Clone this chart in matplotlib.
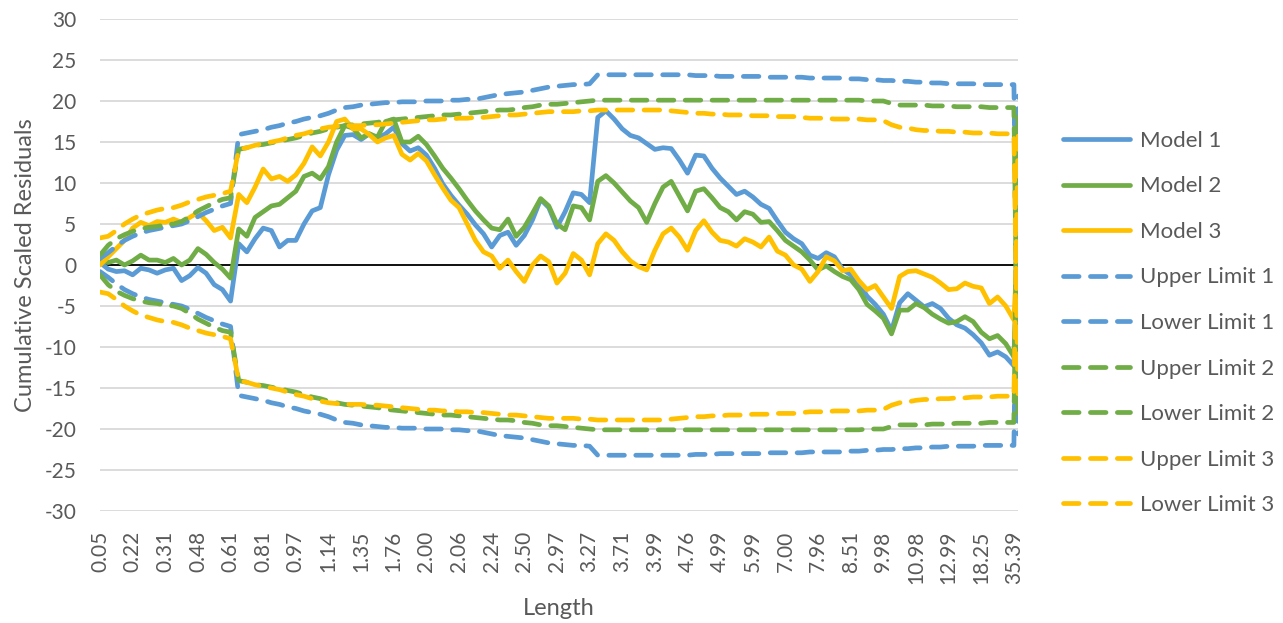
import matplotlib
matplotlib.use('Agg')

import matplotlib.pyplot as plt
from matplotlib.lines import Line2D

# category labels shown on the x axis (every 8th point of the series)
length_labels = ['0.05', '0.22', '0.31', '0.48', '0.61', '0.81', '0.97', '1.14',
                 '1.35', '1.76', '2.00', '2.06', '2.24', '2.50', '2.97', '3.27',
                 '3.71', '3.99', '4.76', '4.99', '5.99', '7.00', '7.96', '8.51',
                 '9.98', '10.98', '12.99', '18.25', '35.39']

# point index of every value below (every 2nd category + the final one)
point_idx = list(range(0, 225, 2)) + [225]

model_1 = [0.3, -0.5, -0.8, -0.7, -1.2, -0.4, -0.6, -1.0,
           -0.6, -0.4, -1.9, -1.3, -0.3, -1.0, -2.4, -3.0,
           -4.4, 2.6, 1.6, 3.2, 4.5, 4.2, 2.2, 3.0,
           3.0, 5.0, 6.6, 7.0, 11.0, 14.0, 15.8, 15.9,
           15.3, 16.0, 15.4, 16.0, 16.8, 14.8, 13.9, 14.3,
           13.4, 11.8, 9.9, 8.5, 7.3, 6.2, 4.9, 3.8,
           2.2, 3.6, 4.0, 2.4, 3.6, 5.5, 8.0, 7.0,
           4.6, 6.5, 8.8, 8.6, 7.6, 18.0, 18.8, 17.8,
           16.6, 15.8, 15.5, 14.8, 14.1, 14.3, 14.2, 12.8,
           11.2, 13.4, 13.3, 11.8, 10.6, 9.6, 8.6, 9.0,
           8.3, 7.4, 6.9, 5.4, 4.0, 3.2, 2.6, 1.2,
           0.8, 1.5, 1.0, -0.5, -1.2, -2.2, -3.8, -4.8,
           -6.0, -8.0, -4.6, -3.5, -4.3, -5.1, -4.7, -5.3,
           -6.5, -7.3, -7.7, -8.5, -9.5, -11.0, -10.6, -11.2,
           -12.3, 5.0]

model_2 = [0.5, 0.3, 0.6, 0.0, 0.5, 1.2, 0.6, 0.6,
           0.3, 0.8, 0.0, 0.6, 2.0, 1.3, 0.3, -0.5,
           -1.6, 4.4, 3.5, 5.8, 6.5, 7.2, 7.4, 8.2,
           9.0, 10.8, 11.2, 10.5, 12.0, 15.0, 17.0, 16.7,
           15.5, 16.0, 15.6, 17.5, 17.8, 15.0, 15.0, 15.7,
           14.7, 13.3, 11.8, 10.6, 9.3, 7.9, 6.6, 5.5,
           4.5, 4.3, 5.6, 3.5, 4.6, 6.3, 8.1, 7.2,
           5.0, 4.3, 7.2, 7.0, 5.5, 10.2, 10.9, 10.0,
           8.9, 7.8, 7.0, 5.2, 7.5, 9.5, 10.2, 8.4,
           6.6, 9.0, 9.3, 8.2, 7.0, 6.5, 5.5, 6.5,
           6.2, 5.2, 5.3, 4.2, 3.0, 2.3, 1.6, 0.6,
           -0.6, -0.1, -0.8, -1.4, -1.8, -3.0, -4.8, -5.6,
           -6.5, -8.4, -5.5, -5.5, -4.7, -5.2, -6.0, -6.6,
           -7.1, -6.9, -6.3, -6.9, -8.2, -9.0, -8.6, -9.6,
           -11.2, 2.0]

model_3 = [0.0, 1.0, 2.0, 3.0, 4.5, 5.2, 4.8, 5.3,
           5.2, 5.6, 5.2, 5.8, 6.4, 5.4, 4.2, 4.6,
           3.3, 8.6, 7.6, 9.5, 11.7, 10.5, 10.8, 10.2,
           11.0, 12.4, 14.4, 13.3, 15.0, 17.5, 17.8, 16.6,
           16.6, 15.9, 15.0, 15.5, 15.8, 13.5, 12.8, 13.6,
           12.7, 11.0, 9.4, 7.9, 7.0, 5.0, 3.0, 1.6,
           1.1, -0.4, 0.6, -0.8, -2.0, 0.0, 1.1, 0.4,
           -2.2, -1.0, 1.4, 0.6, -1.2, 2.6, 3.8, 3.0,
           1.6, 0.5, -0.2, -0.6, 1.8, 3.8, 4.5, 3.4,
           1.8, 4.2, 5.4, 4.0, 3.0, 2.8, 2.3, 3.2,
           2.8, 2.2, 3.4, 1.7, 1.2, 0.0, -0.5, -2.0,
           -0.8, 1.0, 0.5, -0.7, -0.5, -1.9, -3.0, -2.5,
           -3.9, -5.3, -1.4, -0.8, -0.7, -1.1, -1.5, -2.2,
           -3.0, -2.9, -2.2, -2.6, -2.8, -4.7, -3.9, -5.0,
           -6.7, 4.0]

upper_1 = [0.8, 1.5, 2.3, 3.0, 3.5, 3.9, 4.2, 4.4,
           4.6, 4.8, 5.0, 5.4, 5.9, 6.4, 6.8, 7.2,
           7.5, 15.9, 16.1, 16.3, 16.5, 16.8, 17.0, 17.3,
           17.5, 17.8, 18.0, 18.2, 18.5, 18.9, 19.2, 19.3,
           19.5, 19.6, 19.7, 19.8, 19.8, 19.9, 19.9, 19.9,
           20.0, 20.0, 20.0, 20.1, 20.1, 20.2, 20.2, 20.4,
           20.6, 20.8, 20.9, 21.0, 21.1, 21.3, 21.5, 21.7,
           21.8, 21.9, 22.0, 22.0, 22.1, 23.2, 23.2, 23.2,
           23.2, 23.2, 23.2, 23.2, 23.2, 23.2, 23.2, 23.2,
           23.2, 23.1, 23.1, 23.1, 23.0, 23.0, 23.0, 23.0,
           23.0, 23.0, 22.9, 22.9, 22.9, 22.9, 22.9, 22.8,
           22.8, 22.8, 22.8, 22.8, 22.7, 22.7, 22.6, 22.6,
           22.5, 22.5, 22.4, 22.4, 22.3, 22.3, 22.2, 22.2,
           22.1, 22.1, 22.1, 22.1, 22.0, 22.0, 22.0, 22.0,
           22.0, -20.6]

lower_1 = [-0.8, -1.5, -2.3, -3.0, -3.5, -3.9, -4.2, -4.4,
           -4.6, -4.8, -5.0, -5.4, -5.9, -6.4, -6.8, -7.2,
           -7.5, -15.9, -16.1, -16.3, -16.5, -16.8, -17.0, -17.3,
           -17.5, -17.8, -18.0, -18.2, -18.5, -18.9, -19.2, -19.3,
           -19.5, -19.6, -19.7, -19.8, -19.8, -19.9, -19.9, -19.9,
           -20.0, -20.0, -20.0, -20.1, -20.1, -20.2, -20.2, -20.4,
           -20.6, -20.8, -20.9, -21.0, -21.1, -21.3, -21.5, -21.7,
           -21.8, -21.9, -22.0, -22.0, -22.1, -23.2, -23.2, -23.2,
           -23.2, -23.2, -23.2, -23.2, -23.2, -23.2, -23.2, -23.2,
           -23.2, -23.1, -23.1, -23.1, -23.0, -23.0, -23.0, -23.0,
           -23.0, -23.0, -22.9, -22.9, -22.9, -22.9, -22.9, -22.8,
           -22.8, -22.8, -22.8, -22.8, -22.7, -22.7, -22.6, -22.6,
           -22.5, -22.5, -22.4, -22.4, -22.3, -22.3, -22.2, -22.2,
           -22.1, -22.1, -22.1, -22.1, -22.0, -22.0, -22.0, -22.0,
           -22.0, 20.6]

upper_2 = [1.2, 2.4, 3.2, 3.7, 4.1, 4.4, 4.6, 4.7,
           4.9, 5.0, 5.3, 5.9, 6.6, 7.1, 7.6, 8.0,
           8.2, 14.1, 14.3, 14.6, 14.7, 14.9, 15.1, 15.3,
           15.5, 15.8, 16.1, 16.3, 16.6, 16.8, 17.0, 17.1,
           17.2, 17.3, 17.4, 17.6, 17.7, 17.8, 17.9, 18.0,
           18.1, 18.2, 18.3, 18.3, 18.4, 18.5, 18.6, 18.7,
           18.8, 18.9, 18.9, 19.0, 19.2, 19.3, 19.5, 19.6,
           19.6, 19.7, 19.8, 19.9, 20.0, 20.1, 20.1, 20.1,
           20.1, 20.1, 20.1, 20.1, 20.1, 20.1, 20.1, 20.1,
           20.1, 20.1, 20.1, 20.1, 20.1, 20.1, 20.1, 20.1,
           20.1, 20.1, 20.1, 20.1, 20.1, 20.1, 20.1, 20.1,
           20.1, 20.1, 20.1, 20.1, 20.1, 20.1, 20.0, 20.0,
           20.0, 19.7, 19.5, 19.5, 19.5, 19.5, 19.4, 19.4,
           19.4, 19.3, 19.3, 19.3, 19.3, 19.2, 19.2, 19.2,
           19.2, -19.0]

lower_2 = [-1.2, -2.4, -3.2, -3.7, -4.1, -4.4, -4.6, -4.7,
           -4.9, -5.0, -5.3, -5.9, -6.6, -7.1, -7.6, -8.0,
           -8.2, -14.1, -14.3, -14.6, -14.7, -14.9, -15.1, -15.3,
           -15.5, -15.8, -16.1, -16.3, -16.6, -16.8, -17.0, -17.1,
           -17.2, -17.3, -17.4, -17.6, -17.7, -17.8, -17.9, -18.0,
           -18.1, -18.2, -18.3, -18.3, -18.4, -18.5, -18.6, -18.7,
           -18.8, -18.9, -18.9, -19.0, -19.2, -19.3, -19.5, -19.6,
           -19.6, -19.7, -19.8, -19.9, -20.0, -20.1, -20.1, -20.1,
           -20.1, -20.1, -20.1, -20.1, -20.1, -20.1, -20.1, -20.1,
           -20.1, -20.1, -20.1, -20.1, -20.1, -20.1, -20.1, -20.1,
           -20.1, -20.1, -20.1, -20.1, -20.1, -20.1, -20.1, -20.1,
           -20.1, -20.1, -20.1, -20.1, -20.1, -20.1, -20.0, -20.0,
           -20.0, -19.7, -19.5, -19.5, -19.5, -19.5, -19.4, -19.4,
           -19.4, -19.3, -19.3, -19.3, -19.3, -19.2, -19.2, -19.2,
           -19.2, 19.0]

upper_3 = [3.3, 3.5, 4.2, 5.0, 5.6, 6.1, 6.4, 6.7,
           6.9, 7.0, 7.3, 7.7, 8.0, 8.3, 8.5, 8.7,
           9.0, 14.1, 14.3, 14.6, 14.8, 15.0, 15.2, 15.5,
           15.8, 16.0, 16.3, 16.6, 16.8, 16.9, 17.0, 17.0,
           17.0, 17.1, 17.1, 17.2, 17.3, 17.4, 17.5, 17.6,
           17.7, 17.7, 17.8, 17.8, 17.9, 17.9, 18.0, 18.0,
           18.1, 18.2, 18.3, 18.3, 18.4, 18.5, 18.6, 18.7,
           18.7, 18.7, 18.7, 18.8, 18.8, 18.9, 18.9, 18.9,
           18.9, 18.9, 18.9, 18.9, 18.9, 18.9, 18.8, 18.7,
           18.6, 18.5, 18.5, 18.4, 18.4, 18.3, 18.3, 18.3,
           18.2, 18.2, 18.2, 18.1, 18.1, 18.1, 18.0, 17.9,
           17.9, 17.9, 17.8, 17.8, 17.8, 17.8, 17.7, 17.7,
           17.6, 17.1, 16.8, 16.7, 16.5, 16.4, 16.4, 16.3,
           16.3, 16.2, 16.2, 16.1, 16.1, 16.1, 16.0, 16.0,
           16.0, -15.7]

lower_3 = [-3.3, -3.5, -4.2, -5.0, -5.6, -6.1, -6.4, -6.7,
           -6.9, -7.0, -7.3, -7.7, -8.0, -8.3, -8.5, -8.7,
           -9.0, -14.1, -14.3, -14.6, -14.8, -15.0, -15.2, -15.5,
           -15.8, -16.0, -16.3, -16.6, -16.8, -16.9, -17.0, -17.0,
           -17.0, -17.1, -17.1, -17.2, -17.3, -17.4, -17.5, -17.6,
           -17.7, -17.7, -17.8, -17.8, -17.9, -17.9, -18.0, -18.0,
           -18.1, -18.2, -18.3, -18.3, -18.4, -18.5, -18.6, -18.7,
           -18.7, -18.7, -18.7, -18.8, -18.8, -18.9, -18.9, -18.9,
           -18.9, -18.9, -18.9, -18.9, -18.9, -18.9, -18.8, -18.7,
           -18.6, -18.5, -18.5, -18.4, -18.4, -18.3, -18.3, -18.3,
           -18.2, -18.2, -18.2, -18.1, -18.1, -18.1, -18.0, -17.9,
           -17.9, -17.9, -17.8, -17.8, -17.8, -17.8, -17.7, -17.7,
           -17.6, -17.1, -16.8, -16.7, -16.5, -16.4, -16.4, -16.3,
           -16.3, -16.2, -16.2, -16.1, -16.1, -16.1, -16.0, -16.0,
           -16.0, 15.7]

BLUE = '#5B9BD5'
GREEN = '#70AD47'
GOLD = '#FFC000'
TEXT = '#595959'

plt.rcParams['font.family'] = ['Lato', 'DejaVu Sans']
plt.rcParams['axes.unicode_minus'] = False


def main():
    fig = plt.figure(figsize=(12.83, 6.23), dpi=100)
    ax = fig.add_axes([100 / 1283.0, 1 - 511 / 623.0, 918 / 1283.0, 492 / 623.0])

    ax.set_ylim(-30, 30)
    ax.set_xlim(0, 225)
    ax.set_yticks(range(-30, 31, 5))
    ax.grid(axis='y', color='#d9d9d9', linewidth=1.3)
    ax.set_axisbelow(True)
    ax.axhline(0, color='black', linewidth=1.3, zorder=1)

    solid = dict(linewidth=3.4, solid_capstyle='round', solid_joinstyle='round')
    dashed = dict(linewidth=3.4, linestyle=(0, (3.3, 2.4)),
                  dash_capstyle='round', dash_joinstyle='round')

    series = [
        ('Model 1', model_1, BLUE, solid),
        ('Model 2', model_2, GREEN, solid),
        ('Model 3', model_3, GOLD, solid),
        ('Upper Limit 1', upper_1, BLUE, dashed),
        ('Lower Limit 1', lower_1, BLUE, dashed),
        ('Upper Limit 2', upper_2, GREEN, dashed),
        ('Lower Limit 2', lower_2, GREEN, dashed),
        ('Upper Limit 3', upper_3, GOLD, dashed),
        ('Lower Limit 3', lower_3, GOLD, dashed),
    ]
    handles = []
    for name, values, color, style in series:
        ax.plot(point_idx, values, color=color, zorder=3, **style)
        handles.append(Line2D([0], [0], color=color, label=name, **style))

    ax.set_xticks(range(0, 225, 8))
    ax.set_xticklabels(length_labels, rotation=90, fontsize=15, color=TEXT)
    ax.tick_params(axis='x', length=0, pad=14)
    ax.tick_params(axis='y', length=0, pad=17, labelsize=15, labelcolor=TEXT)
    for side in ['top', 'right', 'bottom', 'left']:
        ax.spines[side].set_visible(False)

    ax.set_xlabel('Length', fontsize=17, color=TEXT, labelpad=10)
    ax.set_ylabel('Cumulative Scaled Residuals', fontsize=17, color=TEXT,
                  labelpad=6)

    fig.legend(handles=handles, loc='center left',
               bbox_to_anchor=(1052 / 1283.0, 1 - 323 / 623.0),
               frameon=False, fontsize=16, handlelength=3.0,
               handletextpad=0.45, labelspacing=1.15, borderpad=0,
               labelcolor=TEXT)

    fig.savefig('out.png', dpi=100)


if __name__ == '__main__':
    main()
